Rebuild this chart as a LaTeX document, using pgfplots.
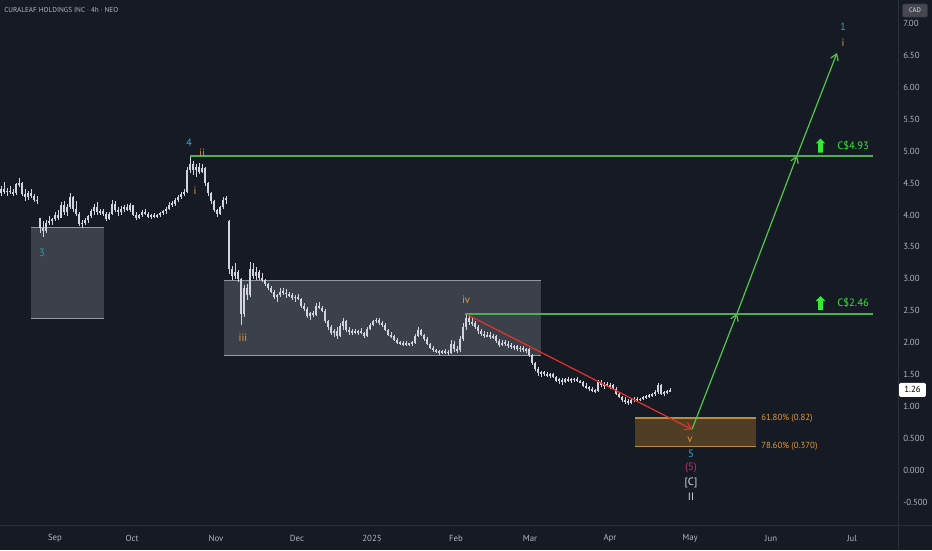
\documentclass[border=0pt]{standalone}
\usepackage{fontspec}
\setmainfont{PT Sans}
\usepackage{pgfplots}
\pgfplotsset{compat=1.18}
\usepackage{pgfplotstable}
\usetikzlibrary{arrows.meta,shapes.arrows}
\definecolor{bg}{HTML}{161A25}
\definecolor{sepcol}{HTML}{2A2E39}
\definecolor{axtext}{HTML}{B2B5BE}
\definecolor{candle}{HTML}{D1D4DC}
\definecolor{boxfill}{HTML}{5D606B}
\definecolor{boxline}{HTML}{9598A1}
\definecolor{obox}{RGB}{200,140,40}
\definecolor{oline}{RGB}{190,140,55}
\definecolor{wor}{RGB}{225,155,50}
\definecolor{wcyan}{RGB}{40,170,220}
\definecolor{wteal}{RGB}{35,160,175}
\definecolor{wpink}{RGB}{220,40,110}
\definecolor{wwhite}{RGB}{220,222,228}
\definecolor{levelgreen}{RGB}{76,175,80}
\definecolor{arrowgreen}{RGB}{80,200,70}
\definecolor{gtext}{RGB}{50,235,50}
\definecolor{rline}{RGB}{230,50,40}

\pgfplotstableread{
x o h l c
1 4.35 4.45 4.30 4.40
4 4.40 4.52 4.33 4.36
7 4.36 4.42 4.30 4.38
10 4.38 4.45 4.33 4.36
13 4.36 4.40 4.30 4.34
16 4.34 4.50 4.32 4.48
19 4.48 4.58 4.44 4.50
22 4.50 4.52 4.30 4.33
25 4.33 4.40 4.22 4.28
28 4.28 4.38 4.24 4.34
31 4.34 4.40 4.26 4.30
34 4.30 4.33 4.20 4.24
37 4.24 4.30 4.18 4.22
40 3.95 3.95 3.72 3.80
43 3.80 3.90 3.66 3.75
46 3.75 3.92 3.72 3.88
49 3.88 3.98 3.84 3.90
52 3.90 3.96 3.84 3.94
55 3.94 4.05 3.90 4.00
58 4.00 4.08 3.92 3.96
61 3.96 4.20 3.95 4.15
64 4.15 4.22 4.00 4.05
67 4.05 4.18 3.98 4.12
70 4.12 4.35 4.10 4.28
73 4.28 4.30 4.05 4.10
76 4.10 4.22 3.98 4.02
79 4.02 4.05 3.82 3.86
82 3.86 3.92 3.80 3.88
85 3.88 3.95 3.84 3.92
88 3.92 4.00 3.88 3.98
91 3.98 4.10 3.95 4.06
94 4.06 4.18 4.00 4.12
97 4.12 4.20 4.00 4.04
100 4.04 4.10 4.00 4.06
103 4.06 4.10 3.98 4.02
106 4.02 4.05 3.90 3.94
109 3.94 4.04 3.92 4.02
112 4.02 4.24 4.00 4.18
115 4.18 4.22 4.05 4.08
118 4.08 4.12 3.98 4.04
121 4.04 4.14 4.00 4.10
124 4.10 4.16 4.04 4.12
127 4.12 4.18 4.06 4.08
130 4.08 4.19 4.05 4.15
133 4.15 4.16 3.98 4.00
136 4.00 4.04 3.92 3.95
139 3.95 4.02 3.93 4.00
142 4.00 4.08 3.97 4.05
145 4.05 4.10 4.00 4.02
148 4.02 4.04 3.95 3.97
151 3.97 4.02 3.94 4.00
154 4.00 4.03 3.95 3.98
157 3.98 4.02 3.96 4.00
160 4.00 4.05 3.97 4.03
163 4.03 4.08 4.00 4.06
166 4.06 4.12 4.02 4.10
169 4.10 4.20 4.08 4.16
172 4.16 4.22 4.12 4.18
175 4.18 4.26 4.14 4.24
178 4.24 4.32 4.20 4.28
181 4.28 4.36 4.25 4.33
184 4.33 4.40 4.30 4.36
187 4.36 4.75 4.34 4.70
190 4.70 4.92 4.66 4.80
193 4.80 4.85 4.62 4.70
196 4.70 4.80 4.60 4.75
199 4.75 4.82 4.64 4.68
202 4.68 4.80 4.66 4.74
205 4.74 4.76 4.45 4.50
208 4.50 4.52 4.30 4.34
211 4.34 4.36 4.18 4.22
214 4.22 4.24 4.04 4.08
217 4.08 4.10 3.97 4.02
220 4.02 4.14 4.00 4.12
223 4.12 4.28 4.10 4.24
226 4.24 4.30 4.18 4.26
229 3.90 3.92 3.08 3.15
232 3.15 3.20 2.98 3.05
235 3.05 3.25 3.00 3.10
238 3.10 3.14 2.95 3.00
241 3.00 3.02 2.27 2.45
244 2.45 2.90 2.40 2.85
247 2.85 2.92 2.67 2.75
250 2.75 3.27 2.72 3.15
253 3.15 3.25 3.00 3.05
256 3.05 3.18 2.98 3.10
259 3.10 3.14 2.98 3.02
262 3.02 3.09 2.95 2.98
265 2.98 3.00 2.88 2.92
268 2.92 2.94 2.82 2.85
271 2.85 2.88 2.78 2.80
274 2.80 2.82 2.68 2.72
277 2.72 2.76 2.64 2.74
280 2.74 2.85 2.72 2.80
283 2.80 2.86 2.74 2.78
286 2.78 2.84 2.70 2.76
289 2.76 2.80 2.72 2.74
292 2.74 2.78 2.66 2.70
295 2.70 2.75 2.64 2.72
298 2.72 2.76 2.66 2.68
301 2.68 2.70 2.55 2.58
304 2.58 2.62 2.50 2.52
307 2.52 2.56 2.38 2.42
310 2.42 2.48 2.36 2.46
313 2.46 2.50 2.40 2.44
316 2.44 2.62 2.42 2.58
319 2.58 2.64 2.52 2.55
322 2.55 2.58 2.48 2.50
325 2.50 2.52 2.30 2.34
328 2.34 2.36 2.20 2.24
331 2.24 2.27 2.12 2.15
334 2.15 2.22 2.09 2.18
337 2.18 2.24 2.06 2.10
340 2.10 2.30 2.08 2.26
343 2.26 2.38 2.20 2.34
346 2.34 2.36 2.16 2.20
349 2.20 2.24 2.12 2.16
352 2.16 2.22 2.12 2.18
355 2.18 2.22 2.14 2.16
358 2.16 2.20 2.12 2.18
361 2.18 2.23 2.14 2.15
364 2.15 2.17 2.07 2.10
367 2.10 2.24 2.08 2.22
370 2.22 2.30 2.20 2.28
373 2.28 2.36 2.26 2.34
376 2.34 2.38 2.30 2.36
379 2.36 2.38 2.28 2.30
382 2.30 2.34 2.24 2.28
385 2.28 2.30 2.18 2.20
388 2.20 2.22 2.10 2.12
391 2.12 2.16 2.07 2.10
394 2.10 2.12 2.02 2.04
397 2.04 2.07 1.98 2.00
400 2.00 2.03 1.96 1.98
403 1.98 2.02 1.94 1.99
406 1.99 2.02 1.95 1.97
409 1.97 2.00 1.94 1.98
412 1.98 2.02 1.95 2.00
415 2.00 2.14 1.98 2.10
418 2.10 2.24 2.08 2.20
421 2.20 2.22 2.10 2.12
424 2.12 2.14 2.02 2.05
427 2.05 2.08 1.96 1.98
430 1.98 2.00 1.90 1.92
433 1.92 1.95 1.85 1.88
436 1.88 1.90 1.83 1.86
439 1.86 1.89 1.81 1.84
442 1.84 1.88 1.82 1.86
445 1.86 1.90 1.82 1.85
448 1.85 1.88 1.80 1.84
451 1.84 2.04 1.82 1.98
454 1.98 2.02 1.86 1.90
457 1.90 1.94 1.84 1.88
460 1.88 2.10 1.85 2.05
463 2.05 2.30 2.02 2.25
466 2.25 2.46 2.20 2.38
469 2.38 2.42 2.28 2.32
472 2.32 2.40 2.26 2.30
475 2.30 2.34 2.22 2.25
478 2.25 2.28 2.14 2.18
481 2.18 2.22 2.10 2.14
484 2.14 2.18 2.07 2.10
487 2.10 2.16 2.08 2.12
490 2.12 2.16 2.06 2.09
493 2.09 2.13 2.05 2.10
496 2.10 2.12 2.00 2.02
499 2.02 2.05 1.93 1.96
502 1.96 2.04 1.94 2.00
505 2.00 2.04 1.94 1.98
508 1.98 2.02 1.92 1.96
511 1.96 1.99 1.90 1.93
514 1.93 1.96 1.88 1.94
517 1.94 1.96 1.87 1.90
520 1.90 1.94 1.86 1.92
523 1.92 1.94 1.85 1.88
526 1.88 1.92 1.84 1.90
529 1.90 1.92 1.78 1.80
532 1.80 1.82 1.65 1.68
535 1.68 1.70 1.55 1.58
538 1.58 1.62 1.48 1.52
541 1.52 1.56 1.46 1.54
544 1.54 1.56 1.48 1.50
547 1.50 1.54 1.46 1.48
550 1.48 1.52 1.45 1.50
553 1.50 1.52 1.44 1.46
556 1.46 1.48 1.38 1.40
559 1.40 1.44 1.35 1.42
562 1.42 1.44 1.34 1.38
565 1.38 1.45 1.36 1.43
568 1.43 1.46 1.38 1.40
571 1.40 1.44 1.37 1.42
574 1.42 1.45 1.39 1.43
577 1.43 1.46 1.38 1.40
580 1.40 1.42 1.36 1.38
583 1.38 1.40 1.30 1.32
586 1.32 1.36 1.27 1.30
589 1.30 1.32 1.24 1.27
592 1.27 1.30 1.23 1.25
595 1.25 1.28 1.21 1.24
598 1.24 1.42 1.22 1.38
601 1.38 1.42 1.30 1.33
604 1.33 1.38 1.28 1.35
607 1.35 1.38 1.30 1.32
610 1.32 1.36 1.28 1.33
613 1.33 1.35 1.26 1.28
616 1.28 1.30 1.18 1.20
619 1.20 1.22 1.13 1.15
622 1.15 1.17 1.07 1.10
625 1.10 1.14 1.04 1.08
628 1.08 1.12 1.02 1.06
631 1.06 1.12 1.03 1.10
634 1.10 1.14 1.07 1.12
637 1.12 1.14 1.08 1.10
640 1.10 1.13 1.08 1.12
643 1.12 1.16 1.10 1.14
646 1.14 1.18 1.12 1.16
649 1.16 1.19 1.13 1.18
652 1.18 1.21 1.15 1.19
655 1.19 1.25 1.17 1.22
658 1.22 1.37 1.20 1.33
661 1.33 1.35 1.18 1.20
664 1.20 1.24 1.16 1.22
667 1.22 1.26 1.19 1.23
670 1.23 1.29 1.22 1.26
}\candles

\pgfplotstableread{
x v
190 4.93
873 4.93
}\levelA
\pgfplotstableread{
x v
465 2.455
873 2.455
}\levelB

\begin{document}
\begin{tikzpicture}
\path[use as bounding box] (0,0) rectangle (699pt,-412.5pt);
\fill[bg] (0,0) rectangle (699pt,-412.5pt);
\begin{axis}[
  at={(0,0)}, anchor=north west,
  width=673.5pt, height=393.75pt, scale only axis,
  xmin=0, xmax=898, ymin=-0.859, ymax=7.370,
  axis x line*=bottom, axis y line*=right,
  axis line style={draw=none},
  major tick length=0pt,
  clip=false,
  xtick={55,132,216,297,372,456,530,610,690,771,852},
  xticklabels={Sep,Oct,Nov,Dec,2025,Feb,Mar,Apr,May,Jun,Jul},
  ytick={-0.5,0,0.5,1,1.5,2,2.5,3,3.5,4,4.5,5,5.5,6,6.5,7},
  yticklabels={-0.500,0.000,0.500,1.00,1.50,2.00,2.50,3.00,3.50,4.00,4.50,5.00,5.50,6.00,6.50,7.00},
  tick label style={font=\fontsize{6.6}{8}\selectfont, text=axtext},
  xticklabel style={anchor=center, yshift=-9.75pt, inner sep=0pt},
  yticklabel style={anchor=west, inner sep=0pt, xshift=3.75pt},
]
% grey boxes
\addplot[draw=none, fill=boxfill, fill opacity=0.55, forget plot] coordinates {(31,2.38) (104,2.38) (104,3.80) (31,3.80)} -- cycle;
\addplot[draw=boxline, line width=0.75pt, forget plot] coordinates {(31,3.80) (104,3.80)};
\addplot[draw=boxline, line width=0.75pt, forget plot] coordinates {(31,2.38) (104,2.38)};
\addplot[draw=none, fill=boxfill, fill opacity=0.55, forget plot] coordinates {(224,1.80) (541,1.80) (541,2.98) (224,2.98)} -- cycle;
\addplot[draw=boxline, line width=0.75pt, forget plot] coordinates {(224,2.98) (541,2.98)};
\addplot[draw=boxline, line width=0.75pt, forget plot] coordinates {(224,1.80) (541,1.80)};
% orange box
\addplot[draw=none, fill=obox, fill opacity=0.32, forget plot] coordinates {(635,0.37) (756,0.37) (756,0.82) (635,0.82)} -- cycle;
\addplot[draw=oline, line width=1pt, forget plot] coordinates {(635,0.82) (756,0.82)};
\addplot[draw=oline, line width=1pt, forget plot] coordinates {(635,0.37) (756,0.37)};
% candles: wicks
\addplot[draw=none, mark=none, forget plot,
  error bars/.cd, y dir=both, y explicit, error mark=none,
  error bar style={draw=candle, line width=0.7pt}]
  table[x=x, y expr={(\thisrow{h}+\thisrow{l})/2}, y error expr={(\thisrow{h}-\thisrow{l})/2}] {\candles};
% candles: bodies
\addplot[draw=none, mark=none, forget plot,
  error bars/.cd, y dir=both, y explicit, error mark=none,
  error bar style={draw=candle, line width=1.4pt}]
  table[x=x, y expr={(\thisrow{o}+\thisrow{c})/2}, y error expr={max(abs(\thisrow{o}-\thisrow{c})/2,0.012)}] {\candles};
% horizontal green levels
\addplot[color=levelgreen, solid, line width=1.4pt, mark=none, forget plot] table[x=x, y=v] {\levelA};
\addplot[color=levelgreen, solid, line width=1.4pt, mark=none, forget plot] table[x=x, y=v] {\levelB};
% red arrow
\addplot[draw=rline, line width=0.9pt, -{Straight Barb[length=4.5pt,width=6pt]}, forget plot] coordinates {(467,2.44) (692,0.64)};
% green projection arrows
\addplot[draw=arrowgreen, line width=0.9pt, -{Straight Barb[length=4.5pt,width=6pt]}, forget plot] coordinates {(692,0.64) (737,2.455)};
\addplot[draw=arrowgreen, line width=0.9pt, -{Straight Barb[length=4.5pt,width=6pt]}, forget plot] coordinates {(737,2.455) (797,4.93)};
\addplot[draw=arrowgreen, line width=0.9pt, -{Straight Barb[length=4.5pt,width=6pt]}, forget plot] coordinates {(797,4.93) (837,6.54)};
% wave labels
\tikzset{wl/.style={font=\fontsize{8}{9.5}\selectfont, inner sep=0pt}}
\node[wl, text=wcyan] at (axis cs:189,5.13) {4};
\node[wl, text=wor] at (axis cs:202,4.97) {ii};
\node[wl, text=wor] at (axis cs:195,4.38) {i};
\node[wl, text=wteal] at (axis cs:42,3.40) {3};
\node[wl, text=wor] at (axis cs:243,2.07) {iii};
\node[wl, text=wor] at (axis cs:466,2.67) {iv};
\node[wl, text=wor] at (axis cs:690,0.47) {v};
\node[wl, text=wcyan] at (axis cs:691,0.25) {5};
\node[wl, text=wpink] at (axis cs:691,0.03) {(5)};
\node[wl, text=wwhite] at (axis cs:691,-0.20) {[C]};
\node[wl, text=wwhite] at (axis cs:691,-0.42) {II};
\node[wl, text=wteal] at (axis cs:843,6.95) {1};
\node[wl, text=wor] at (axis cs:843,6.70) {i};
% fib labels
\node[font=\fontsize{6.6}{8}\selectfont, text=wor, anchor=west, inner sep=0pt] at (axis cs:761,0.82) {61.80\% (0.82)};
\node[font=\fontsize{6.6}{8}\selectfont, text=wor, anchor=west, inner sep=0pt] at (axis cs:761,0.37) {78.60\% (0.370)};
% target labels
\node[single arrow, fill=gtext, draw=none, rotate=90, minimum height=10.5pt, minimum width=6.75pt, single arrow head extend=1.9pt, inner sep=1.5pt] at (axis cs:820.5,5.07) {};
\node[single arrow, fill=gtext, draw=none, rotate=90, minimum height=10.5pt, minimum width=6.75pt, single arrow head extend=1.9pt, inner sep=1.5pt] at (axis cs:820.5,2.60) {};
\node[font=\fontsize{8}{9.5}\selectfont, text=gtext, anchor=west, inner sep=0pt] at (axis cs:837,5.09) {C\$4.93};
\node[font=\fontsize{8}{9.5}\selectfont, text=gtext, anchor=west, inner sep=0pt] at (axis cs:837,2.62) {C\$2.46};
% last price box
\node[fill=white, rounded corners=1pt, minimum width=20pt, minimum height=10.5pt, inner sep=0pt, font=\fontsize{6.6}{8}\selectfont, text=black] at (axis cs:912.5,1.26) {1.26};
\end{axis}
% separators
\draw[sepcol, line width=0.75pt] (0,-393.75pt) -- (699pt,-393.75pt);
\draw[sepcol, line width=0.75pt] (673.5pt,0) -- (673.5pt,-412.5pt);
% title and currency box
\node[anchor=west, inner sep=0pt, font=\fontsize{5.4}{6.5}\selectfont, text=axtext] at (3pt,-7.5pt) {CURALEAF HOLDINGS INC · 4h · NEO};
\node[fill=bg!80!white, draw=sepcol, rounded corners=1.5pt, minimum width=19pt, minimum height=10pt, inner sep=0pt, font=\fontsize{5}{6}\selectfont, text=wwhite] at (686.25pt,-7.9pt) {CAD};
\end{tikzpicture}
\end{document}
